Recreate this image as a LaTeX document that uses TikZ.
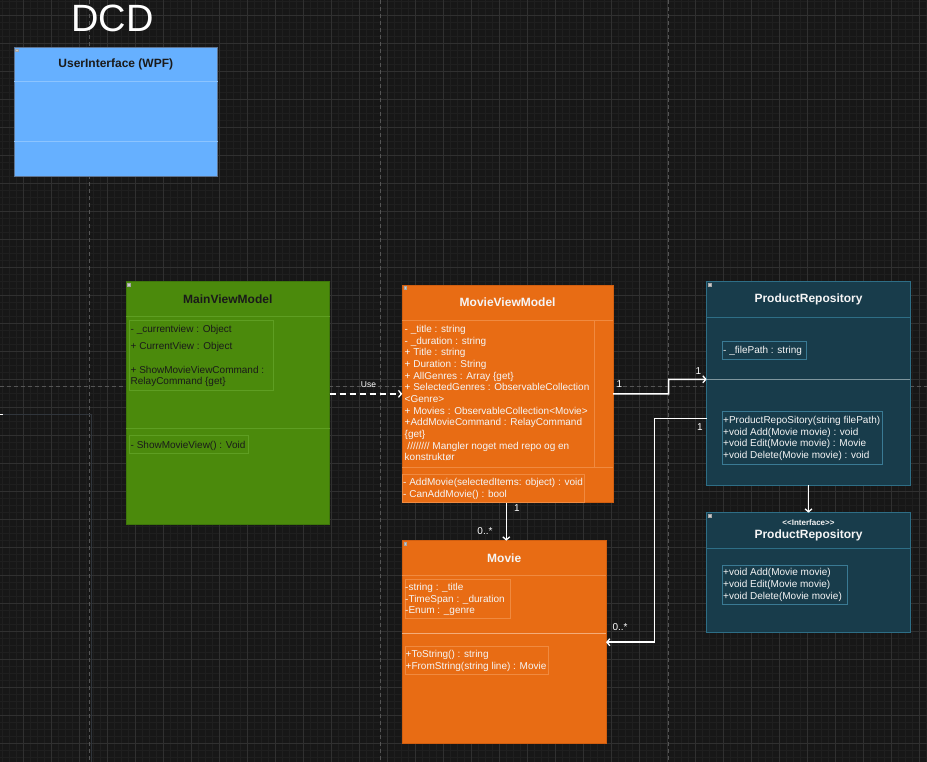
\documentclass[tikz,border=0pt]{standalone}
\usepackage{fontspec}
\setmainfont{Liberation Sans}
\usetikzlibrary{arrows.meta,calc}
\definecolor{bg}{HTML}{171717}
\definecolor{gminor}{HTML}{1F1F1F}
\definecolor{gmajor}{HTML}{303030}
\definecolor{gpage}{HTML}{555555}
\definecolor{uifill}{HTML}{66B0FF}
\definecolor{uistroke}{HTML}{5E7390}
\definecolor{uidiv}{HTML}{8CC4FF}
\definecolor{gfill}{HTML}{4B8A0C}
\definecolor{gstroke}{HTML}{3E760A}
\definecolor{gdiv}{HTML}{5E9E22}
\definecolor{ofill}{HTML}{E86C14}
\definecolor{ostroke}{HTML}{D05E10}
\definecolor{odiv}{HTML}{F08A40}
\definecolor{olight}{HTML}{F4AC78}
\definecolor{tfill}{HTML}{183C4B}
\definecolor{tstroke}{HTML}{2E6E86}
\definecolor{tdiv}{HTML}{3A7A94}
\definecolor{tlight}{HTML}{7F979F}
\definecolor{darktext}{HTML}{1A1A1A}
\definecolor{lighttext}{HTML}{F5F5F5}
\definecolor{sideline}{HTML}{30353B}
\begin{document}
\begin{tikzpicture}[x=1pt,y=-1pt,
  classbox/.style={draw, inner sep=0pt, outer sep=0pt, anchor=north west, line width=0.8pt},
  ctitle/.style={inner sep=0pt, font=\fontsize{12}{14}\bfseries\selectfont},
  mem/.style={anchor=base west, inner sep=0pt, font=\fontsize{10}{12}\selectfont},
  lbl/.style={inner sep=0pt, text=white, font=\fontsize{10}{12}\selectfont},
  conn/.style={draw=white, line width=1.5pt, -{Straight Barb[length=3pt,width=7pt,line width=1.3pt]}},
  innerbox/.style={line width=0.7pt},
  divline/.style={line width=0.8pt},
  corner/.style={draw=gray!70, fill=gray!40, line width=0.3pt}
]
\useasboundingbox (0,0) rectangle (927,762);
\fill[bg] (0,0) rectangle (927,762);
% grid
\foreach \x in {2.3,9.3,...,927} \draw[gminor, line width=0.5pt] (\x,0) -- (\x,762);
\foreach \y in {1.3,8.3,...,762} \draw[gminor, line width=0.5pt] (0,\y) -- (927,\y);
\foreach \x in {23.3,51.3,...,927} \draw[gmajor, line width=0.7pt] (\x,0) -- (\x,762);
\foreach \y in {15.3,43.3,...,762} \draw[gmajor, line width=0.7pt] (0,\y) -- (927,\y);
% page breaks
\foreach \x in {89.3,380,668.3} \draw[gpage, line width=0.7pt, dash pattern=on 4pt off 3pt] (\x,0) -- (\x,762);
\draw[gpage, line width=0.7pt, dash pattern=on 4pt off 3pt] (0,386) -- (927,386);
% side line
\draw[sideline, line width=1pt] (0,414.3) -- (91,414.3) -- (91,762);
\draw[white, line width=1pt] (0,414.3) -- (3,414.3);

% title
\node[text=white, inner sep=0pt, font=\fontsize{38}{40}\selectfont] (dcd) at (112.5,18) {DCD};

% UserInterface
\node[classbox, fill=uifill, draw=uistroke, minimum width=203.7pt, minimum height=129.4pt] (ui) at (14,47.3) {};
\draw[uidiv, divline] (14,81.7) -- (217.7,81.7);
\draw[uidiv, divline] (14,141.7) -- (217.7,141.7);
\node[ctitle, text=darktext] (uiT) at (115.8,64.7) {UserInterface (WPF)};
\draw[corner] (15.5,48.8) rectangle (18,51.3);

% MainViewModel
\node[classbox, fill=gfill, draw=gstroke, minimum width=203.7pt, minimum height=242.3pt] (mainvm) at (126,281.7) {};
\draw[gdiv, divline] (126,316.7) -- (329.7,316.7);
\draw[gdiv, divline] (126,428.7) -- (329.7,428.7);
\node[ctitle, text=darktext] (mainvmT) at (227.8,299.7) {MainViewModel};
\draw[gdiv, innerbox] (129.3,320.3) rectangle (273.3,390.3);
\draw[gdiv, innerbox] (129.3,435.7) rectangle (248.7,453.3);
\node[mem, text=darktext] (mainA1) at (130.5,332.3) {- \_currentview : Object};
\node[mem, text=darktext] (mainA2) at (130.5,349.3) {+ CurrentView : Object};
\node[mem, text=darktext] (mainA3) at (130.5,373.3) {+ ShowMovieViewCommand :};
\node[mem, text=darktext] (mainA4) at (130.5,384.6) {RelayCommand \{get\}};
\node[mem, text=darktext] (mainO1) at (130.5,448.3) {- ShowMovieView() : Void};
\draw[corner] (127.5,283.2) rectangle (130,285.7);

% MovieViewModel
\node[classbox, fill=ofill, draw=ostroke, minimum width=210.7pt, minimum height=217.7pt] (mvm) at (402.3,285) {};
\draw[odiv, divline] (402.3,320.3) -- (613,320.3);
\draw[odiv, innerbox] (594,320.3) -- (594,467);
\draw[odiv, divline] (402.3,467) -- (613,467);
\draw[odiv, innerbox] (402.3,474) rectangle (584.3,502.7);
\node[ctitle, text=lighttext] (mvmT) at (507.6,302.7) {MovieViewModel};
\foreach \t [count=\i] in {{- \_title : string},{- \_duration : string},{+ Title : string},{+ Duration : String},{+ AllGenres : Array \{get\}},{+ SelectedGenres : ObservableCollection},{<Genre>},{+ Movies : ObservableCollection<Movie>},{+AddMovieCommand : RelayCommand},{\{get\}},{\ //////// Mangler noget med repo og en},{konstruktør}}
  \node[mem, text=lighttext] (mvmA\i) at (404.5,{332.6+(\i-1)*11.66}) {\t};
\node[mem, text=lighttext] (mvmO1) at (403,485.9) {- AddMovie(selectedItems: object) : void};
\node[mem, text=lighttext] (mvmO2) at (403,497.6) {- CanAddMovie() : bool};
\draw[corner] (403.8,286.5) rectangle (406.3,289);

% Movie
\node[classbox, fill=ofill, draw=ostroke, minimum width=203.7pt, minimum height=203pt] (movie) at (402.3,540.7) {};
\draw[odiv, divline] (402.3,575.7) -- (606,575.7);
\draw[odiv, innerbox] (405,579.3) rectangle (510.3,618);
\draw[olight, divline] (402.3,633) -- (606,633);
\draw[odiv, innerbox] (405,646) rectangle (548.3,674);
\node[ctitle, text=lighttext] (movieT) at (504.2,558.7) {Movie};
\node[mem, text=lighttext] (movieA1) at (405,590.6) {-string : \_title};
\node[mem, text=lighttext] (movieA2) at (405,602.2) {-TimeSpan : \_duration};
\node[mem, text=lighttext] (movieA3) at (405,613.8) {-Enum : \_genre};
\node[mem, text=lighttext] (movieO1) at (405.5,657.6) {+ToString() : string};
\node[mem, text=lighttext] (movieO2) at (405.5,669.3) {+FromString(string line) : Movie};
\draw[corner] (403.8,542.2) rectangle (406.3,544.7);

% ProductRepository
\node[classbox, fill=tfill, draw=tstroke, minimum width=203.6pt, minimum height=203.3pt] (pr) at (706.7,281.7) {};
\draw[tstroke, divline] (706.7,317) -- (910.3,317);
\draw[tdiv, innerbox] (722.3,341.7) rectangle (806.7,359.3);
\draw[tlight, divline] (706.7,379.3) -- (910.3,379.3);
\draw[tdiv, innerbox] (722.3,411.3) rectangle (882.7,464.3);
\node[ctitle, text=lighttext] (prT) at (808.5,299.7) {ProductRepository};
\node[mem, text=lighttext] (prA1) at (723,353.9) {- \_filePath : string};
\node[mem, text=lighttext] (prO1) at (723,423.6) {+ProductRepoSitory(string filePath)};
\node[mem, text=lighttext] (prO2) at (723,435.3) {+void Add(Movie movie) : void};
\node[mem, text=lighttext] (prO3) at (723,446.9) {+void Edit(Movie movie) : Movie};
\node[mem, text=lighttext] (prO4) at (723,458.6) {+void Delete(Movie movie) : void};
\draw[corner] (708.2,283.2) rectangle (710.7,285.7);

% Interface ProductRepository
\node[classbox, fill=tfill, draw=tstroke, minimum width=203.6pt, minimum height=119.3pt] (iface) at (706.7,512.7) {};
\draw[tstroke, divline] (706.7,548) -- (910.3,548);
\draw[tdiv, innerbox] (722.3,565.3) rectangle (847.7,604.3);
\node[inner sep=0pt, text=lighttext, font=\fontsize{8}{9}\bfseries\selectfont] (ifaceS) at (808.5,523) {{<}{<}Interface{>}{>}};
\node[ctitle, text=lighttext] (ifaceT) at (808.5,535.7) {ProductRepository};
\node[mem, text=lighttext] (ifaceO1) at (723,575.9) {+void Add(Movie movie)};
\node[mem, text=lighttext] (ifaceO2) at (723,587.6) {+void Edit(Movie movie)};
\node[mem, text=lighttext] (ifaceO3) at (723,599.3) {+void Delete(Movie movie)};
\draw[corner] (708.2,514.2) rectangle (710.7,516.7);

% connectors
\coordinate (prIn) at (706.7,379.3);
\coordinate (prOut) at (706.7,418.7);
\draw[conn, dash pattern=on 6pt off 4pt] (mainvm.east |- mvm.west) -- (mvm.west);
\node[inner sep=0pt, text=white, font=\fontsize{8.5}{10}\selectfont] (useL) at (368.5,384.3) {Use};
\draw[conn] (mvm.east) -- (668.7,393.85) |- (prIn);
\node[lbl] (l1a) at (619.3,384.3) {1};
\node[lbl] (l1b) at (698.3,370.7) {1};
\draw[conn] (prOut) -- (654.7,418.7) |- (movie.east);
\node[lbl] (l1c) at (700,426.7) {1};
\node[lbl] (l0a) at (620,626.7) {0..*};
\draw[conn] (506.3,502.7) -- (506.3,540.7);
\node[lbl] (l1d) at (517,508) {1};
\node[lbl] (l0b) at (485,531.5) {0..*};
\draw[conn] (pr.south) -- (iface.north);
\end{tikzpicture}
\end{document}
